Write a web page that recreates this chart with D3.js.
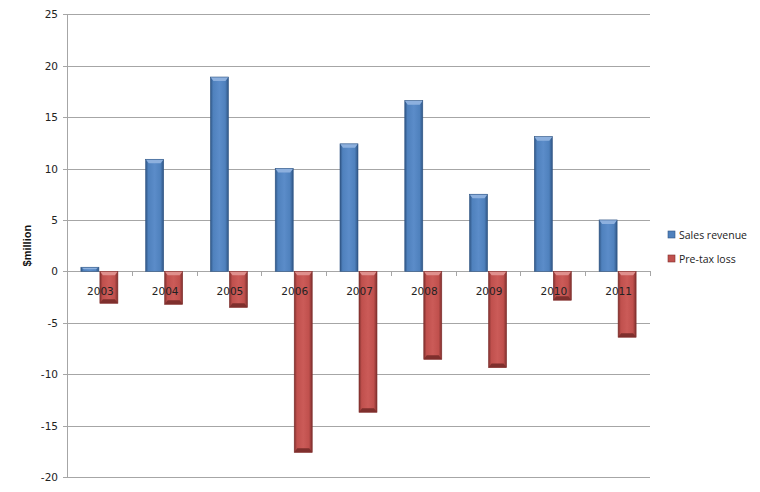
<!DOCTYPE html>
<html><head><meta charset="utf-8">
<script src="https://cdn.jsdelivr.net/npm/d3@7"></script>
<style>body{margin:0;background:#fff}svg{display:block}</style>
</head><body>
<script>
const years = ["2003","2004","2005","2006","2007","2008","2009","2010","2011"];
const salesRevenue = [0.4,10.9,18.9,10.0,12.4,16.6,7.5,13.1,5.0];
const preTaxLoss = [-3.1,-3.2,-3.5,-17.6,-13.7,-8.55,-9.35,-2.8,-6.4];
const yTicks = [-20,-15,-10,-5,0,5,10,15,20,25];
const seriesNames = ["Sales revenue","Pre-tax loss"];

(function(){
const W=760,H=492;
const svg=d3.select("body").append("svg").attr("width",W).attr("height",H);
const pL=67,pR=650,pT=14.3,pB=477;
const y=d3.scaleLinear().domain([-20,25]).range([pB,pT]);
const x=d3.scaleBand().domain(years).range([pL,pR]).paddingInner(0).paddingOuter(0);
const bw=18;

const pal=[
 {main:"#4F81BD",light:"#8DB0DE",dark:"#2F5584",mid:"#5B8CC9"},
 {main:"#C0504D",light:"#E0908D",dark:"#7F2F2D",mid:"#CB5B58"}
];
const defs=svg.append("defs");
pal.forEach((p,i)=>{
  const g=defs.append("linearGradient").attr("id","g"+i).attr("x1","0").attr("x2","1").attr("y1","0").attr("y2","0");
  g.append("stop").attr("offset","0").attr("stop-color",p.dark);
  g.append("stop").attr("offset","0.15").attr("stop-color",p.main);
  g.append("stop").attr("offset","0.5").attr("stop-color",p.mid);
  g.append("stop").attr("offset","0.82").attr("stop-color",p.main);
  g.append("stop").attr("offset","1").attr("stop-color",p.dark);
});

svg.append("g").selectAll("line").data(yTicks).join("line")
 .attr("x1",pL-4).attr("x2",pR).attr("y1",d=>Math.round(y(d))+0.5).attr("y2",d=>Math.round(y(d))+0.5)
 .attr("stroke","#A6A6A6").attr("stroke-width",1);
svg.append("line").attr("x1",pL+0.5).attr("x2",pL+0.5).attr("y1",pT).attr("y2",pB+0.5).attr("stroke","#A6A6A6");
svg.append("g").selectAll("text").data(yTicks).join("text")
 .attr("x",pL-9).attr("y",d=>y(d)+4).attr("text-anchor","end")
 .attr("font-family","'DejaVu Sans', Verdana, sans-serif").attr("font-size",10.5).attr("fill","#222")
 .text(d=>d);
const bounds=years.map(d=>x(d)).concat([pR]);
svg.append("g").selectAll("line").data(bounds).join("line")
 .attr("x1",d=>Math.round(d)+0.5).attr("x2",d=>Math.round(d)+0.5)
 .attr("y1",Math.round(y(0))).attr("y2",Math.round(y(0))+5).attr("stroke","#A6A6A6");

function bar(g,xl,v,p,gi){
  const y0=y(0), y1=y(v);
  const yt=Math.min(y0,y1), h=Math.abs(y1-y0);
  const xr=xl+bw;
  g.append("rect").attr("x",xl).attr("y",yt).attr("width",bw).attr("height",h).attr("fill","url(#g"+gi+")");
  const b=Math.min(4,h/2);
  g.append("path").attr("d",`M${xl},${yt}L${xr},${yt}L${xr-3},${yt+b}L${xl+3},${yt+b}Z`).attr("fill",p.light);
  if(v<0) g.append("path").attr("d",`M${xl},${yt+h}L${xr},${yt+h}L${xr-3},${yt+h-b}L${xl+3},${yt+h-b}Z`).attr("fill",p.dark);
  g.append("rect").attr("x",xl).attr("y",yt).attr("width",bw).attr("height",h).attr("fill","none").attr("stroke",p.dark).attr("stroke-width",0.6);
}
const bars=svg.append("g");
years.forEach((yr,i)=>{
  const c=x(yr)+x.bandwidth()/2;
  bar(bars,c-bw-0.5,salesRevenue[i],pal[0],0);
  bar(bars,c+0.5,preTaxLoss[i],pal[1],1);
});
svg.append("g").selectAll("text").data(years).join("text")
 .attr("x",d=>x(d)+x.bandwidth()/2+1).attr("y",y(0)+24).attr("text-anchor","middle")
 .attr("font-family","'DejaVu Sans', Verdana, sans-serif").attr("font-size",10.5).attr("fill","#222")
 .text(d=>d);
svg.append("text").attr("transform",`translate(31,${(pT+pB)/2}) rotate(-90)`).attr("text-anchor","middle")
 .attr("font-family","'Liberation Sans', Arial, sans-serif").attr("font-weight","bold").attr("font-size",11).attr("fill","#111")
 .text("$million");
const lg=svg.append("g");
seriesNames.forEach((n,i)=>{
  const ly=235+i*24;
  lg.append("rect").attr("x",668).attr("y",ly-4).attr("width",7).attr("height",7).attr("fill",pal[i].main).attr("stroke",pal[i].dark).attr("stroke-width",0.6);
  lg.append("text").attr("x",679).attr("y",ly+4).attr("font-family","'Open Sans', sans-serif").attr("font-size",10.5).attr("fill","#222").text(n);
});
})();
</script>
</body></html>
